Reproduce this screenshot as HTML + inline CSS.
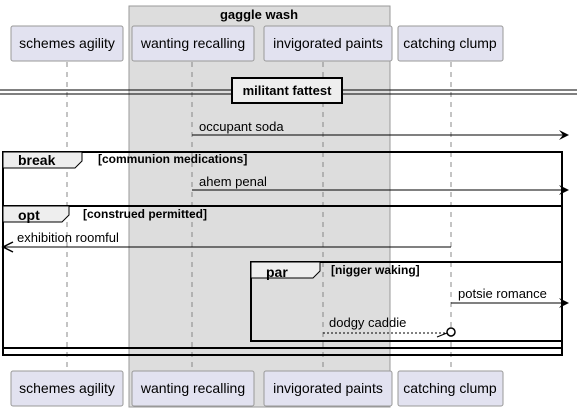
<html><head><style>
body{margin:0;width:577px;height:412px;background:#fff;overflow:hidden}
text{font-family:"Liberation Sans",sans-serif;font-size:13px;fill:#000}
.b{font-weight:bold}
.g{font-weight:bold;font-size:12px}
</style></head><body>
<svg width="577" height="412" xmlns="http://www.w3.org/2000/svg">
<rect x="129" y="6" width="261" height="401" fill="#ddd" stroke="#999" stroke-width="1"/>
<text x="259" y="19" text-anchor="middle" class="b">gaggle wash</text>
<g stroke="#888" stroke-dasharray="5,5" stroke-width="1">
<line x1="67" y1="62" x2="67" y2="371"/><line x1="192" y1="62" x2="192" y2="371"/>
<line x1="323" y1="62" x2="323" y2="371"/><line x1="451" y1="62" x2="451" y2="371"/>
</g>
<g fill="#e2e2f0" stroke="#999">
<rect x="11" y="26" width="112" height="35" rx="2"/><rect x="132" y="26" width="122" height="35" rx="2"/>
<rect x="264" y="26" width="128" height="35" rx="2"/><rect x="398" y="26" width="105" height="35" rx="2"/>
<rect x="11" y="371" width="112" height="35" rx="2"/><rect x="132" y="371" width="122" height="35" rx="2"/>
<rect x="264" y="371" width="128" height="35" rx="2"/><rect x="398" y="371" width="105" height="35" rx="2"/>
</g>
<text x="67" y="48" text-anchor="middle" style="font-size:14px">schemes agility</text>
<text x="193" y="48" text-anchor="middle" style="font-size:14px">wanting recalling</text>
<text x="328" y="48" text-anchor="middle" style="font-size:14px">invigorated paints</text>
<text x="450" y="48" text-anchor="middle" style="font-size:14px">catching clump</text>
<text x="67" y="393" text-anchor="middle" style="font-size:14px">schemes agility</text>
<text x="193" y="393" text-anchor="middle" style="font-size:14px">wanting recalling</text>
<text x="328" y="393" text-anchor="middle" style="font-size:14px">invigorated paints</text>
<text x="450" y="393" text-anchor="middle" style="font-size:14px">catching clump</text>
<line x1="0" y1="90" x2="577" y2="90" stroke="#000"/><line x1="0" y1="94" x2="577" y2="94" stroke="#000"/>
<rect x="232" y="78" width="110" height="25" fill="#eee" stroke="#000" stroke-width="2"/>
<text x="287" y="95" text-anchor="middle" class="b">militant fattest</text>
<text x="199" y="131">occupant soda</text>
<line x1="192" y1="135" x2="568" y2="135" stroke="#000"/>
<polygon points="569,135 559,130 563,135 559,140" fill="#000"/>
<rect x="3" y="152" width="559" height="203" fill="none" stroke="#000" stroke-width="2"/>
<path d="M3,152 H82 V161 L75,168 H3 Z" fill="#eee" stroke="#000"/>
<text x="18" y="165" class="b" style="font-size:14px">break</text>
<text x="98" y="163" class="g">[communion medications]</text>
<text x="199" y="186">ahem penal</text>
<line x1="192" y1="190" x2="568" y2="190" stroke="#000"/>
<polygon points="569,190 559,185 563,190 559,195" fill="#000"/>
<rect x="3" y="206" width="559" height="142" fill="none" stroke="#000" stroke-width="2"/>
<path d="M3,206 H69 V215 L62,222 H3 Z" fill="#eee" stroke="#000"/>
<text x="18" y="220" class="b" style="font-size:14px">opt</text>
<text x="83" y="218" class="g">[construed permitted]</text>
<text x="17" y="242">exhibition roomful</text>
<line x1="4" y1="247" x2="451" y2="247" stroke="#000"/>
<path d="M13,242 L3,247 L13,252" fill="none" stroke="#000" stroke-width="1.5"/>
<rect x="251" y="262" width="311" height="79" fill="none" stroke="#000" stroke-width="2"/>
<path d="M251,262 H320 V271 L313,278 H251 Z" fill="#eee" stroke="#000"/>
<text x="266" y="277" class="b" style="font-size:14px">par</text>
<text x="331" y="274" class="g">[nigger waking]</text>
<text x="458" y="298">potsie romance</text>
<line x1="451" y1="303" x2="568" y2="303" stroke="#000"/>
<polygon points="569,303 559,298 563,303 559,308" fill="#000"/>
<text x="329" y="327">dodgy caddie</text>
<line x1="323" y1="333" x2="447" y2="333" stroke="#000" stroke-dasharray="2,2"/>
<line x1="437" y1="337" x2="447" y2="333" stroke="#000"/>
<circle cx="451" cy="332" r="4" fill="#fff" stroke="#000" stroke-width="1.5"/>
</svg>
</body></html>
